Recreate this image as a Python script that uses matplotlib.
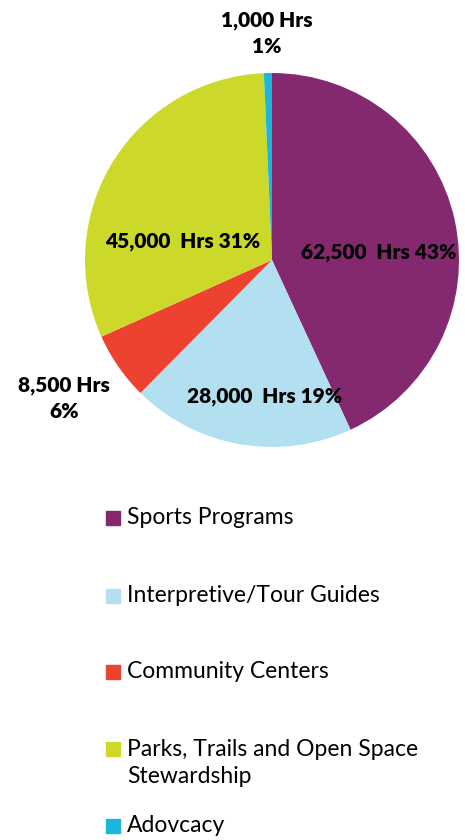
import matplotlib.pyplot as plt
from matplotlib.patches import Rectangle

plt.rcParams['font.family'] = ['Lato', 'DejaVu Sans']

categories = ['Sports Programs', 'Interpretive/Tour Guides', 'Community Centers',
              'Parks, Trails and Open Space\nStewardship', 'Adovcacy']
hours = [62500, 28000, 8500, 45000, 1000]
percents = [43, 19, 6, 31, 1]
colors = ['#84296F', '#B3E0F1', '#EE4231', '#CDD92A', '#1CB6DD']

# label text per slice and where it sits (pie units, radius 1)
label_fmt = ['{h:,}  Hrs {p}%', '{h:,}  Hrs {p}%', '{h:,} Hrs\n{p}%',
             '{h:,}  Hrs {p}%', '{h:,} Hrs\n{p}%']
label_pos = [(0.57, 0.04), (-0.04, -0.73), (-1.11, -0.74), (-0.48, 0.10), (-0.03, 1.21)]

fig = plt.figure(figsize=(4.65, 8.4), dpi=100)
ax = fig.add_axes([85 / 465, 393 / 840, 374 / 465, 374 / 840])
ax.pie(hours, colors=colors, startangle=90, counterclock=False, radius=1)
ax.set_xlim(-1, 1)
ax.set_ylim(-1, 1)
ax.set_aspect('equal')

for h, p, fmt, (x, y) in zip(hours, percents, label_fmt, label_pos):
    ax.text(x, y, fmt.format(h=h, p=p), ha='center', va='center',
            fontsize=15, fontweight='heavy', color='black',
            linespacing=1.45, clip_on=False)

# legend drawn by hand so the wrapped entry keeps its box on the first line
rows_y = [518, 596, 672, 749, 826]
line_h = 28
for name, c, y in zip(categories, colors, rows_y):
    fy = 1 - y / 840
    fig.patches.append(Rectangle((106 / 465, fy - 7 / 840), 14 / 465, 14 / 840,
                                 color=c, transform=fig.transFigure))
    n_lines = name.count('\n') + 1
    ty = fy - (n_lines - 1) * line_h / 2 / 840
    fig.text(127 / 465, ty, name, ha='left', va='center',
             fontsize=16.5, color='black', linespacing=1.3)

fig.savefig('out.png', dpi=100)
